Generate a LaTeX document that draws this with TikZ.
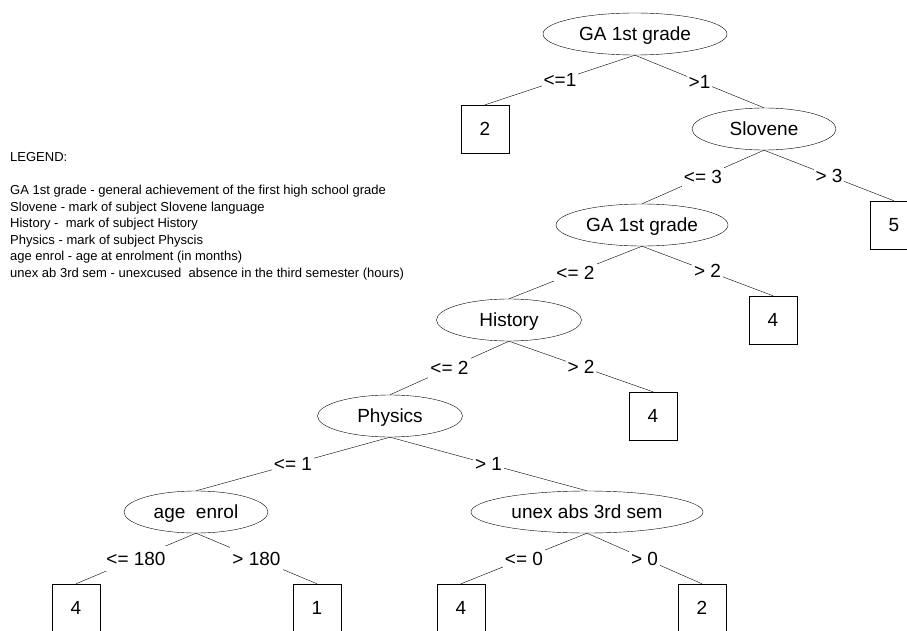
\documentclass[tikz,border=0pt]{standalone}
\usepackage{fontspec}
\setmainfont{Liberation Sans}
\usetikzlibrary{shapes.geometric}

\tikzset{
  attr/.style={ellipse, draw, thin, inner sep=0pt, minimum height=42pt,
    text height=17pt, text depth=3.4pt,
    font=\fontsize{19}{22}\selectfont},
  leaf/.style={rectangle, draw, thin, inner sep=0pt, minimum size=48pt,
    text height=17pt, text depth=3.4pt,
    font=\fontsize{19}{22}\selectfont},
  cond/.style={midway, fill=white, inner sep=2pt,
    text height=17pt, text depth=3.4pt,
    font=\fontsize{19}{22}\selectfont},
  branch/.style={thin}
}

\begin{document}
\begin{tikzpicture}[x=1pt, y=-1pt]
  \useasboundingbox (0,0) rectangle (907,631);

  % Legend
  \node[anchor=north west, inner sep=0pt, align=left,
        font=\fontsize{13}{16.6}\selectfont] (legend) at (10,152)
    {LEGEND:\\[16.6pt]
     GA 1st grade - general achievement of the first high school grade\\
     Slovene - mark of subject Slovene language\\
     History -\ \ mark of subject History\\
     Physics - mark of subject Physcis\\
     age enrol - age at enrolment (in months)\\
     unex ab 3rd sem - unexcused\ \ absence in the third semester (hours)};

  % === Inner (attribute) nodes ===
  \node[attr, minimum width=184pt] (ga1)   at (635,34)  {GA 1st grade};
  \node[attr, minimum width=144pt] (slov)  at (764,129) {Slovene};
  \node[attr, minimum width=172pt] (ga2)   at (642,225) {GA 1st grade};
  \node[attr, minimum width=145pt] (hist)  at (509,320) {History};
  \node[attr, minimum width=145pt] (phys)  at (390,416) {Physics};
  \node[attr, minimum width=144pt] (age)   at (196,512) {age\ \ enrol};
  \node[attr, minimum width=232pt] (unex)  at (587,512) {unex abs 3rd sem};

  % === Leaves ===
  \node[leaf] (leafA) at (485,129) {2};
  \node[leaf] (leafB) at (894,225) {5};
  \node[leaf] (leafC) at (773,320) {4};
  \node[leaf] (leafD) at (653,416) {4};
  \node[leaf] (leafE) at (76,608)  {4};
  \node[leaf] (leafF) at (317,608) {1};
  \node[leaf] (leafG) at (461,608) {4};
  \node[leaf] (leafH) at (702,608) {2};

  % === Branches ===
  \draw[branch] (ga1.south)  -- (leafA.north) node[cond] {<=1};
  \draw[branch] (ga1.south)  -- (slov.north)  node[cond] {>1};
  \draw[branch] (slov.south) -- (ga2.north)   node[cond] {<= 3};
  \draw[branch] (slov.south) -- (leafB.north) node[cond] {> 3};
  \draw[branch] (ga2.south)  -- (hist.north)  node[cond] {<= 2};
  \draw[branch] (ga2.south)  -- (leafC.north) node[cond] {> 2};
  \draw[branch] (hist.south) -- (phys.north)  node[cond] {<= 2};
  \draw[branch] (hist.south) -- (leafD.north) node[cond] {> 2};
  \draw[branch] (phys.south) -- (age.north)   node[cond] {<= 1};
  \draw[branch] (phys.south) -- (unex.north)  node[cond] {> 1};
  \draw[branch] (age.south)  -- (leafE.north) node[cond] {<= 180};
  \draw[branch] (age.south)  -- (leafF.north) node[cond] {> 180};
  \draw[branch] (unex.south) -- (leafG.north) node[cond] {<= 0};
  \draw[branch] (unex.south) -- (leafH.north) node[cond] {> 0};
\end{tikzpicture}
\end{document}
